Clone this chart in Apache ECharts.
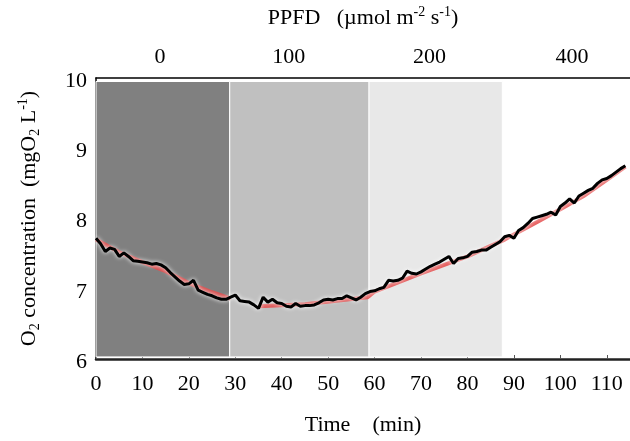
<!DOCTYPE html>
<html><head><meta charset="utf-8">
<script src="https://cdn.jsdelivr.net/npm/echarts@6/dist/echarts.min.js"></script>
<style>html,body{margin:0;padding:0;background:#fff}#c{width:630px;height:441px}</style>
</head><body><div id="c"></div>
<script>
// ---- data ----
const timeMin = [0,1,2,3,4,5,6,7,8,9,10,11,12,13,14,15,16,17,18,19,20,21,22,23,24,25,26,27,28,29,30,31,32,33,34,35,36,37,38,39,40,41,42,43,44,45,46,47,48,49,50,51,52,53,54,55,56,57,58,59,60,61,62,63,64,65,66,67,68,69,70,71,72,73,74,75,76,77,78,79,80,81,82,83,84,85,86,87,88,89,90,91,92,93,94,95,96,97,98,99,100,101,102,103,104,105,106,107,108,109,110,111,112,113,114];
const o2Measured = [7.72,7.64,7.53,7.58,7.56,7.46,7.51,7.46,7.40,7.39,7.38,7.37,7.35,7.36,7.34,7.30,7.23,7.17,7.11,7.06,7.07,7.12,6.98,6.95,6.92,6.90,6.87,6.85,6.85,6.88,6.91,6.83,6.82,6.81,6.77,6.72,6.88,6.81,6.85,6.80,6.79,6.75,6.74,6.79,6.75,6.76,6.76,6.77,6.80,6.84,6.85,6.84,6.86,6.86,6.90,6.87,6.84,6.88,6.93,6.96,6.97,7.00,7.02,7.12,7.11,7.12,7.15,7.25,7.22,7.21,7.24,7.28,7.32,7.35,7.38,7.42,7.46,7.36,7.43,7.44,7.46,7.52,7.53,7.55,7.55,7.59,7.63,7.67,7.74,7.76,7.72,7.83,7.87,7.93,8.00,8.02,8.04,8.06,8.09,8.05,8.17,8.22,8.28,8.22,8.32,8.36,8.40,8.43,8.50,8.55,8.57,8.61,8.66,8.71,8.75];
const fitTime = [0,5,10,15,20,25,29,32,35,45,58.5,60,70,80,88,95,100,105,110,114];
const fitO2   = [7.70,7.52,7.38,7.25,7.08,6.95,6.86,null,6.75,6.78,6.88,6.96,7.22,7.46,7.70,7.95,8.13,8.32,8.55,8.74];
const phaseBounds = [0, 28.8, 58.8, 87.5];
const ppfdLabels = ['0','100','200','400'];
const ppfdLabelAt = [13.8, 41.5, 71.8, 102.5];
const xTicks = [0,10,20,30,40,50,60,70,80,90,100,110];
// ---- chart ----
const FONT = '"Liberation Serif", "Times New Roman", serif';
const phaseFill = ['#808080','#c0c0c0','#e8e8e8'];
const areas = [];
for (let i = 0; i < phaseBounds.length - 1; i++) {
  areas.push([{xAxis: phaseBounds[i], yAxis: 6.03, itemStyle:{color: phaseFill[i]}},
              {xAxis: phaseBounds[i+1], yAxis: 9.95}]);
}
const measured = timeMin.map((t,i)=>[t,o2Measured[i]]);
const fit = fitTime.map((t,i)=>[t,fitO2[i]]);
const chart = echarts.init(document.getElementById('c'), null, {renderer:'canvas'});
chart.setOption({
  animation:false,
  backgroundColor:'#fff',
  grid:{left:96, top:77, width:535, bottom:78, containLabel:false},
  xAxis:[{
    type:'value', min:0, max:115, position:'bottom',
    name:'Time    (min)', nameLocation:'middle', nameGap:55,
    nameTextStyle:{fontFamily:FONT, fontSize:22, color:'#000'},
    axisLine:{show:true, onZero:false, lineStyle:{color:'#222', width:2.5}},
    axisTick:{show:true, inside:true, length:4, customValues:xTicks, lineStyle:{color:'#555', width:1}},
    axisLabel:{customValues:xTicks, fontFamily:FONT, fontSize:22, color:'#000', margin:14},
    splitLine:{show:false}
  },{
    type:'value', min:0, max:115, position:'top',
    name:'PPFD   (\u00b5mol m{sup|-2} s{sup|-1})', nameLocation:'middle', nameGap:47,
    nameTextStyle:{fontFamily:FONT, fontSize:22, color:'#000',
      rich:{sup:{fontFamily:FONT, fontSize:14, color:'#000', verticalAlign:'top', lineHeight:26}}},
    axisLine:{show:true, onZero:false, lineStyle:{color:'#000', width:1.5}},
    axisTick:{show:false},
    axisLabel:{customValues:ppfdLabelAt, fontFamily:FONT, fontSize:22, color:'#000', margin:10,
      formatter:(v)=>{const k=ppfdLabelAt.indexOf(v); return k>=0?ppfdLabels[k]:'';}},
    splitLine:{show:false}
  }],
  yAxis:{
    type:'value', min:6, max:10, interval:1,
    name:'{n|O}{sub|2}{n| concentration  (mgO}{sub|2}{n| L}{sup|-1}{n|)}',
    nameLocation:'middle', nameGap:54, nameRotate:90,
    nameTextStyle:{fontFamily:FONT, fontSize:22, color:'#000',
      rich:{
        n:{fontFamily:FONT, fontSize:22, color:'#000', lineHeight:26},
        sub:{fontFamily:FONT, fontSize:14, color:'#000', verticalAlign:'bottom', lineHeight:26},
        sup:{fontFamily:FONT, fontSize:14, color:'#000', verticalAlign:'top', lineHeight:26}
      }},
    axisLine:{show:true, lineStyle:{color:'#000', width:1.5}},
    axisTick:{show:false},
    axisLabel:{fontFamily:FONT, fontSize:22, color:'#000', margin:9, verticalAlign:'top', lineHeight:22, padding:[-8,0,0,0]},
    splitLine:{show:false}
  },
  series:[{
    type:'line', name:'fit', data:fit, showSymbol:false, symbol:'none', connectNulls:false,
    lineStyle:{color:'rgba(228,72,72,0.85)', width:4},
    z:2,
    markArea:{silent:true, itemStyle:{borderColor:'#fff', borderWidth:1}, data:areas}
  },{
    type:'line', name:'measured', data:measured, showSymbol:false, symbol:'none',
    lineStyle:{color:'#000', width:3, shadowColor:'#ffffff', shadowBlur:4},
    z:3
  }]
});
</script></body></html>
